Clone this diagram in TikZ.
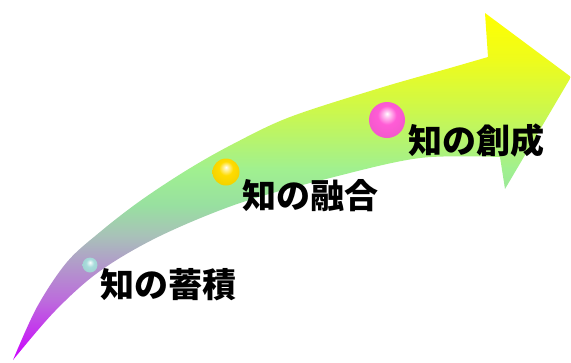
\documentclass[tikz,border=0pt]{standalone}
\usepackage{fontspec}
\newfontfamily\jpfont{Noto Sans CJK JP}[BoldFont={Noto Sans CJK JP Black}]
\usepackage{xcolor}
\usetikzlibrary{positioning}
\definecolor{cYellow}{HTML}{FFFF00}
\definecolor{cLemon}{HTML}{EEFC1C}
\definecolor{cLime}{HTML}{CCF84C}
\definecolor{cGreenL}{HTML}{A0F090}
\definecolor{cMint}{HTML}{98E0A0}
\definecolor{cSage}{HTML}{A8C2B8}
\definecolor{cLilac}{HTML}{B0A0C8}
\definecolor{cPurple}{HTML}{BC6CDC}
\definecolor{cMagenta}{HTML}{CC00FF}
\definecolor{cTeal}{HTML}{A8DCDC}
\definecolor{cGold}{HTML}{FFDC00}
\definecolor{cPink}{HTML}{FF5CD6}
\colorlet{glosscol}{white}
\pgfdeclareverticalshading{knowgrad}{100bp}{color(0bp)=(cMagenta); color(25bp)=(cMagenta);
  color(33.6bp)=(cPurple); color(39.4bp)=(cLilac); color(43bp)=(cSage); color(47.3bp)=(cMint);
  color(52.4bp)=(cGreenL); color(61bp)=(cLime); color(68.2bp)=(cLemon); color(75bp)=(cYellow);
  color(100bp)=(cYellow)}
\pgfdeclareradialshading[glosscol]{knowgloss}{\pgfpoint{0bp}{9bp}}{color(0bp)=(white);
  color(4bp)=(glosscol!35!white); color(13bp)=(glosscol); color(29bp)=(glosscol!95!black);
  color(34bp)=(glosscol!78!black); color(50bp)=(glosscol!78!black)}
\tikzset{
  knowball/.style={circle, inner sep=0pt, shade, shading=knowgloss, /utils/exec={\colorlet{glosscol}{#1}}},
  knowlabel/.style={inner sep=0pt, font=\jpfont\bfseries\fontsize{34}{34}\selectfont}
}
\begin{document}
\begin{tikzpicture}[x=1pt, y=-1pt]
    \useasboundingbox (0,0) rectangle (571,362);
    % curved arrow
    \shade[shading=knowgrad] plot[smooth, tension=0.55] coordinates {(13,360) (37,307) (67,262)
      (100,232) (140,201) (187,170) (233,144) (290,117) (380,88) (450,68) (488,57)}
      -- (485,13) -- (571,77) -- (505,189) -- (500,157)
      -- plot[smooth, tension=0.55] coordinates {(500,157) (420,158) (330,178) (240,203)
      (160,236) (100,271) (55,311) (13,360)} -- cycle;
    \node[knowball=cTeal, minimum size=15] (ballAcc) at (90,265) {};
    \node[knowball=cGold, minimum size=27] (ballFus) at (226,172) {};
    \node[knowball=cPink, minimum size=36] (ballCre) at (387,120) {};
    \node[knowlabel] (labAcc) at (168,285) {知の蓄積};
    \node[knowlabel] (labFus) at (310,196) {知の融合};
    \node[knowlabel] (labCre) at (476,141) {知の創成};
  \end{tikzpicture}
\end{document}
